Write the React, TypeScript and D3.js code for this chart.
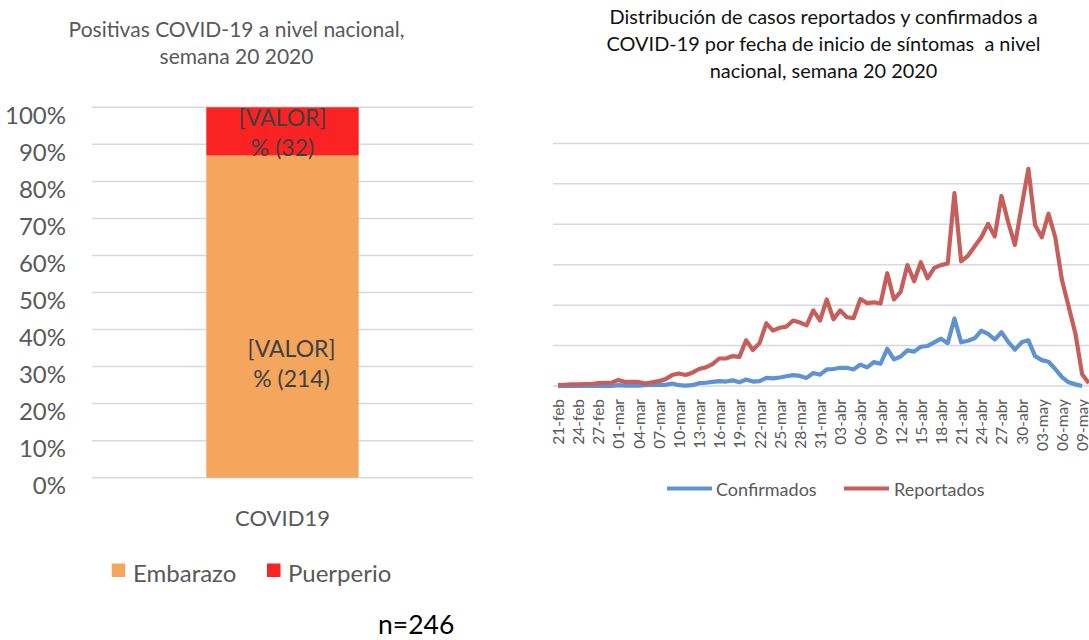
import React from 'react';
import * as d3 from 'd3';

// ---------- Left chart data ----------
const barCategory = 'COVID19';
const barSeries = ['Embarazo', 'Puerperio'];
const barCounts = [214, 32];
const barColors = ['#F4A65D', '#FA2222'];
const pctTicks = [0, 10, 20, 30, 40, 50, 60, 70, 80, 90, 100];
const sampleSize = 'n=246';

// ---------- Right chart data ----------
const dates = [
  '21-feb', '22-feb', '23-feb', '24-feb', '25-feb', '26-feb', '27-feb', '28-feb', '29-feb',
  '01-mar', '02-mar', '03-mar', '04-mar', '05-mar', '06-mar', '07-mar', '08-mar', '09-mar', '10-mar',
  '11-mar', '12-mar', '13-mar', '14-mar', '15-mar', '16-mar', '17-mar', '18-mar', '19-mar', '20-mar',
  '21-mar', '22-mar', '23-mar', '24-mar', '25-mar', '26-mar', '27-mar', '28-mar', '29-mar', '30-mar', '31-mar',
  '01-abr', '02-abr', '03-abr', '04-abr', '05-abr', '06-abr', '07-abr', '08-abr', '09-abr', '10-abr',
  '11-abr', '12-abr', '13-abr', '14-abr', '15-abr', '16-abr', '17-abr', '18-abr', '19-abr', '20-abr',
  '21-abr', '22-abr', '23-abr', '24-abr', '25-abr', '26-abr', '27-abr', '28-abr', '29-abr', '30-abr',
  '01-may', '02-may', '03-may', '04-may', '05-may', '06-may', '07-may', '08-may', '09-may', '10-may',
];

const confirmados = [
  0, 0, 0, 0, 0, 0, 0, 0, 0,
  0.2, 0.1, 0.1, 0.1, 0.2, 0.3, 0.3, 0.3, 0.6, 0.2,
  0.1, 0.2, 0.7, 0.8, 1.0, 1.2, 1.1, 1.4, 0.9, 1.6,
  1.1, 1.2, 2.0, 1.9, 2.1, 2.4, 2.7, 2.5, 2.0, 3.2, 2.8,
  4.1, 4.2, 4.5, 4.5, 4.1, 5.3, 4.6, 5.9, 5.5, 9.2,
  6.6, 7.3, 8.8, 8.5, 9.7, 9.9, 10.8, 11.7, 10.6, 16.7,
  10.8, 11.2, 11.8, 13.7, 12.9, 11.5, 13.3, 10.9, 9.0, 10.8,
  11.3, 7.4, 6.4, 6.0, 4.2, 2.2, 0.9, 0.4, 0.0,
];

const reportados = [
  0.2, 0.3, 0.4, 0.4, 0.5, 0.5, 0.7, 0.8, 0.8,
  1.5, 1.0, 1.0, 1.0, 0.6, 0.9, 1.2, 1.7, 2.7, 3.1,
  2.7, 3.3, 4.2, 4.6, 5.4, 6.8, 6.8, 7.4, 7.2, 11.3,
  8.9, 10.6, 15.5, 13.7, 14.4, 14.7, 16.2, 15.7, 15.0, 18.7, 16.2,
  21.4, 16.5, 18.7, 17.0, 16.8, 21.5, 20.5, 20.7, 20.4, 27.9,
  21.4, 23.3, 29.9, 25.9, 30.6, 26.6, 29.2, 29.9, 30.3, 47.7,
  30.8, 32.2, 34.5, 36.8, 40.1, 37.0, 47.0, 40.5, 34.9, 44.4,
  53.7, 39.8, 36.8, 42.6, 36.8, 26.2, 19.6, 13.0, 2.9, 0.7,
];
const lineSeries = ['Confirmados', 'Reportados'];
const lineColors = ['#5F92D1', '#C65E5B'];
const lineTicks = [0, 10, 20, 30, 40, 50, 60];

const leftTitle = ['Positivas COVID-19 a nivel nacional,', 'semana 20 2020'];
const rightTitle = [
  'Distribución de casos reportados y confirmados a',
  'COVID-19 por fecha de inicio de síntomas  a nivel',
  'nacional, semana 20 2020',
];

const FONT = 'Lato, "Open Sans", sans-serif';
const GRID = '#D9D9D9';
const TXT = '#595959';

export default function App() {
  // ---- Left chart scales ----
  const yL = d3.scaleLinear().domain([0, 100]).range([477.7, 107.3]);
  const xL = d3.scaleBand<string>().domain([barCategory]).range([92, 473]).paddingInner(0).paddingOuter(0.75);
  const total = d3.sum(barCounts);
  const pcts = barCounts.map((c) => (c / total) * 100);
  let acc = 0;
  const segs = pcts.map((p, i) => {
    const s = { y0: acc, y1: acc + p, color: barColors[i], count: barCounts[i], name: barSeries[i] };
    acc += p;
    return s;
  });
  const bx = xL(barCategory)!;
  const bw = xL.bandwidth();
  const bcx = bx + bw / 2;

  // ---- Right chart scales ----
  const xR = d3.scaleBand<string>().domain(dates).range([554.6, 554.6 + dates.length * 6.72]);
  const xc = (i: number) => xR(dates[i])! + xR.bandwidth() / 2;
  const yR = d3.scaleLinear().domain([0, 60]).range([386, 143.4]);
  const line = d3
    .line<number>()
    .x((_, i) => xc(i))
    .y((d) => yR(d));

  const labelOffsets = [
    { dx: 9, dy: 45 },
    { dx: 0, dy: 0 },
  ];

  return (
    <div>
      <style>{`body{margin:0;background:#fff}`}</style>
      <svg width={1089} height={640} style={{ display: 'block', fontFamily: FONT }}>
        <rect x={0} y={0} width={1089} height={640} fill="#fff" />
        {/* ---------- Left chart ---------- */}
        {leftTitle.map((t, i) => (
          <text key={'lt' + i} x={236.5} y={37 + i * 26.5} textAnchor="middle" fontSize={21} fill={TXT}>
            {t}
          </text>
        ))}
        {pctTicks.map((t) => (
          <g key={'ltk' + t}>
            <line x1={92} x2={473} y1={yL(t)} y2={yL(t)} stroke={GRID} strokeWidth={1.5} />
            <text x={66} y={yL(t) + 7} textAnchor="end" dominantBaseline="central" fontSize={24} fill={TXT}>
              {t}%
            </text>
          </g>
        ))}
        {segs.map((s, i) => (
          <rect key={'seg' + i} x={bx} width={bw} y={yL(s.y1)} height={yL(s.y0) - yL(s.y1)} fill={s.color} />
        ))}
        {segs.map((s, i) => {
          const cy = (yL(s.y0) + yL(s.y1)) / 2 + labelOffsets[i].dy;
          const cx = bcx + labelOffsets[i].dx;
          return (
            <g key={'lab' + i} fontSize={23} fill="#404040" textAnchor="middle">
              <text x={cx} y={cy - 14} dominantBaseline="central">[VALOR]</text>
              <text x={cx} y={cy + 16} dominantBaseline="central">% ({s.count})</text>
            </g>
          );
        })}
        <text x={bcx} y={517} textAnchor="middle" dominantBaseline="central" fontSize={22} fill={TXT}>
          {barCategory}
        </text>
        {/* legend */}
        {[
          { x: 111.7, tx: 133 },
          { x: 267, tx: 288 },
        ].map((p, i) => (
          <g key={'lg' + i}>
            <rect x={p.x} y={563.5} width={13.5} height={13.5} fill={barColors[i]} />
            <text x={p.tx} y={572} dominantBaseline="central" fontSize={24} fill={TXT}>
              {barSeries[i]}
            </text>
          </g>
        ))}
        <text x={378} y={624} dominantBaseline="central" fontSize={26.5} fill="#000">
          {sampleSize}
        </text>

        {/* ---------- Right chart ---------- */}
        {rightTitle.map((t, i) => (
          <text key={'rt' + i} x={823.5} y={24 + i * 26.8} textAnchor="middle" fontSize={19.9} fill="#111" style={{ whiteSpace: 'pre' }}>
            {t}
          </text>
        ))}
        {lineTicks.map((t) => (
          <line key={'rg' + t} x1={553} x2={1095} y1={yR(t)} y2={yR(t)} stroke={GRID} strokeWidth={1.5} />
        ))}
        <path d={line(confirmados)!} fill="none" stroke={lineColors[0]} strokeWidth={4.2} strokeLinejoin="round" />
        <path d={line(reportados)!} fill="none" stroke={lineColors[1]} strokeWidth={4.2} strokeLinejoin="round" />
        {dates.map((d, i) =>
          i % 3 === 0 ? (
            <text
              key={'xl' + d}
              transform={`translate(${xc(i)},${399}) rotate(-90)`}
              textAnchor="end"
              dominantBaseline="central"
              fontSize={15.5}
              fill={TXT}
            >
              {d}
            </text>
          ) : null
        )}
        {/* legend */}
        {[
          { x: 667, tx: 716 },
          { x: 844, tx: 894 },
        ].map((p, i) => (
          <g key={'rl' + i}>
            <line x1={p.x} x2={p.x + 45} y1={488.5} y2={488.5} stroke={lineColors[i]} strokeWidth={4} />
            <text x={p.tx} y={489} dominantBaseline="central" fontSize={18} fill={TXT}>
              {lineSeries[i]}
            </text>
          </g>
        ))}
      </svg>
    </div>
  );
}
